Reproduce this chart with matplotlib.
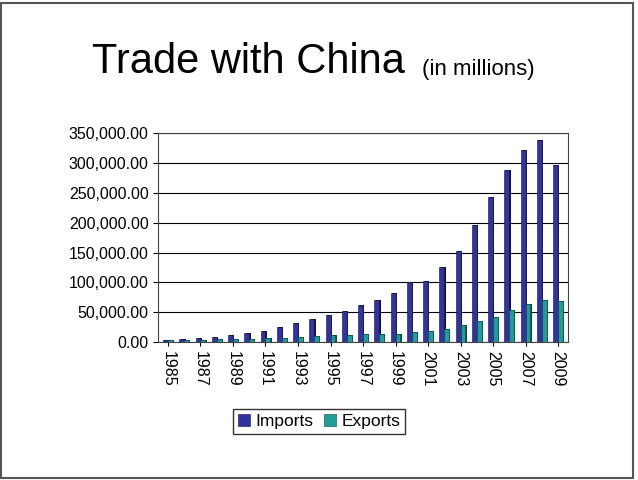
import matplotlib
matplotlib.use("Agg")
import matplotlib.pyplot as plt
import numpy as np

years = list(range(1985, 2010))
imports = [3862, 4771, 6294, 8511, 11990, 15237, 18969, 25728, 31540, 38787, 45543, 51513, 62558,
           71169, 81788, 100018, 102278, 125193, 152436, 196682, 243470, 287774, 321443, 337773, 296374]
exports = [3856, 3106, 3497, 5022, 5755, 4806, 6278, 7418, 8763, 9282, 11754, 11993, 12862,
           14241, 13111, 16185, 19182, 22128, 28368, 34428, 41192, 53674, 62937, 69733, 69497]

plt.rcParams['font.family'] = ['Liberation Sans', 'DejaVu Sans']
fig = plt.figure(figsize=(6.38, 4.8), dpi=100)
fig.patches.append(plt.Rectangle((0.002, 0.004), 0.99, 0.99, transform=fig.transFigure,
                                 fill=False, edgecolor='#555555', lw=1.5))
fig.text(0.144, 0.87, "Trade with China", ha='left', va='center', fontsize=30)
fig.text(0.662, 0.855, "(in millions)", ha='left', va='center', fontsize=16)

ax = fig.add_axes([0.248, 0.2875, 0.642, 0.435])
x = np.arange(len(years))
w = 0.3
imp_c = '#3333a0'
exp_c = '#1f9e96'
ax.bar(x - w/2 + 0.08, imports, w, color='#111144', zorder=2)
ax.bar(x + w/2 + 0.08, exports, w, color='#0d4a46', zorder=2)
ax.bar(x - w/2, imports, w, color=imp_c, edgecolor='#111144', lw=0.4, label='Imports', zorder=3)
ax.bar(x + w/2, exports, w, color=exp_c, edgecolor='#0d4a46', lw=0.4, label='Exports', zorder=3)

ax.set_ylim(0, 350000)
ax.set_yticks(np.arange(0, 350001, 50000))
ax.set_yticklabels([f"{v:,.2f}" for v in np.arange(0, 350001, 50000)], fontsize=11.5)
ax.yaxis.grid(True, color='black', lw=0.8, zorder=0)
ax.set_axisbelow(True)
ax.set_xlim(-0.6, len(years) - 0.4)
ax.set_xticks(x[::2])
ax.set_xticklabels([str(y) for y in years[::2]], rotation=270, fontsize=11.5)
ax.tick_params(axis='x', length=3)
for s in ax.spines.values():
    s.set_color('#444444')

leg = fig.legend(loc='center', bbox_to_anchor=(0.5, 0.122), ncol=2, fontsize=12.5,
                 frameon=True, fancybox=False, edgecolor='black', handlelength=0.7,
                 handletextpad=0.3, columnspacing=0.6, borderpad=0.3)
fig.savefig("out.png", dpi=100)
